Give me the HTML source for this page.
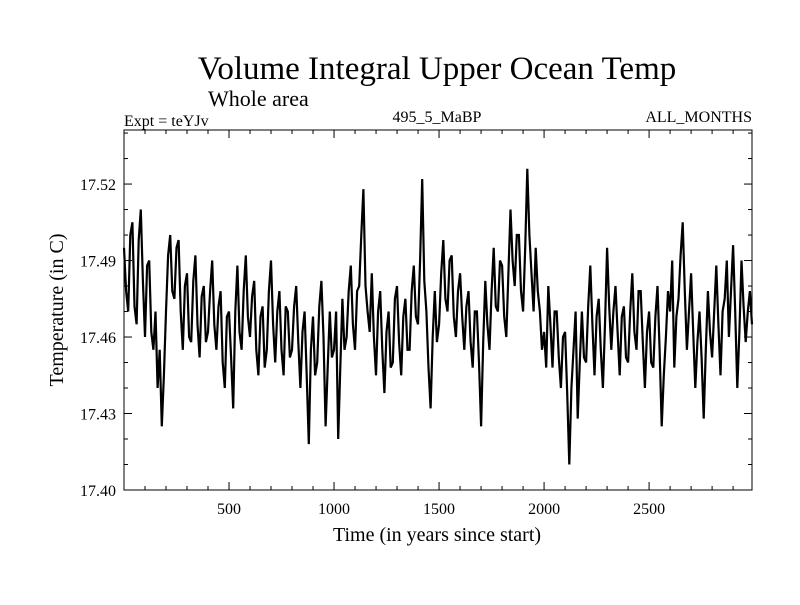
<!DOCTYPE html>
<html><head><meta charset="utf-8"><style>
body{margin:0;background:#fff}
svg text{font-family:"Liberation Serif",serif;fill:#000}
</style></head><body>
<svg width="800" height="600" viewBox="0 0 800 600">
<text x="437" y="79" font-size="33" text-anchor="middle">Volume Integral Upper Ocean Temp</text>
<text x="208" y="106" font-size="22">Whole area</text>
<text x="124" y="126" font-size="16">Expt = teYJv</text>
<text x="437" y="122" font-size="16" text-anchor="middle">495_5_MaBP</text>
<text x="752" y="122" font-size="16" text-anchor="end">ALL_MONTHS</text>
<g id="axes"></g>
<path id="series" fill="none" stroke="#000" stroke-width="2.2" stroke-linejoin="miter"/>
<rect x="124" y="130" width="628" height="360" fill="none" stroke="#000" stroke-width="1"/>
<text x="437" y="541" font-size="20" text-anchor="middle">Time (in years since start)</text>
<text transform="translate(63,310) rotate(-90)" font-size="20" text-anchor="middle">Temperature (in C)</text>
</svg>
<script>
const yearStep = 10;
const temps = [
17.495,17.478,17.470,17.500,17.505,17.472,17.465,17.498,17.510,17.482,17.460,17.488,17.490,17.462,17.455,17.470,17.440,17.455,17.425,17.445,
17.470,17.492,17.500,17.478,17.475,17.495,17.498,17.470,17.455,17.480,17.485,17.460,17.458,17.482,17.492,17.465,17.452,17.476,17.480,17.458,
17.462,17.478,17.490,17.465,17.455,17.472,17.478,17.450,17.440,17.468,17.470,17.452,17.432,17.470,17.488,17.462,17.455,17.478,17.492,17.468,
17.460,17.476,17.482,17.455,17.445,17.468,17.472,17.448,17.455,17.478,17.490,17.465,17.450,17.470,17.478,17.455,17.445,17.472,17.470,17.452,
17.455,17.472,17.480,17.458,17.440,17.462,17.470,17.445,17.418,17.455,17.468,17.445,17.450,17.472,17.482,17.460,17.425,17.448,17.470,17.452,
17.455,17.470,17.420,17.448,17.475,17.455,17.460,17.478,17.488,17.465,17.455,17.478,17.480,17.500,17.518,17.480,17.470,17.462,17.485,17.460,
17.445,17.470,17.478,17.455,17.438,17.462,17.470,17.448,17.450,17.475,17.480,17.458,17.445,17.468,17.475,17.455,17.455,17.478,17.488,17.468,
17.465,17.490,17.522,17.482,17.470,17.448,17.432,17.460,17.478,17.458,17.465,17.485,17.498,17.475,17.470,17.490,17.492,17.468,17.460,17.478,
17.485,17.468,17.455,17.472,17.478,17.458,17.448,17.470,17.470,17.450,17.425,17.458,17.482,17.465,17.455,17.478,17.495,17.472,17.470,17.490,
17.488,17.468,17.460,17.485,17.510,17.490,17.480,17.500,17.500,17.478,17.470,17.495,17.526,17.500,17.485,17.470,17.495,17.478,17.470,17.455,
17.462,17.448,17.480,17.465,17.448,17.470,17.470,17.452,17.440,17.460,17.462,17.438,17.410,17.440,17.455,17.470,17.428,17.450,17.470,17.452,
17.450,17.472,17.488,17.465,17.445,17.468,17.475,17.455,17.440,17.465,17.495,17.472,17.455,17.470,17.480,17.462,17.445,17.468,17.472,17.452,
17.450,17.470,17.485,17.462,17.455,17.478,17.478,17.458,17.440,17.462,17.470,17.450,17.448,17.468,17.480,17.455,17.425,17.445,17.460,17.478,
17.470,17.490,17.448,17.468,17.475,17.492,17.505,17.478,17.455,17.470,17.485,17.462,17.440,17.458,17.470,17.452,17.428,17.455,17.478,17.462,
17.452,17.470,17.488,17.465,17.445,17.470,17.475,17.490,17.460,17.478,17.496,17.470,17.440,17.462,17.490,17.472,17.458,17.470,17.478,17.465];
const xTicks = [500,1000,1500,2000,2500];
const yTicks = [17.40,17.43,17.46,17.49,17.52];
const yTickLabels = ["17.40","17.43","17.46","17.49","17.52"];
const X0=124,X1=752,Y0=490,Y1=130,xMin=0,xMax=2990,yMin=17.40,yMax=17.5412;
const sx=v=>X0+(v-xMin)/(xMax-xMin)*(X1-X0);
const sy=v=>Y0-(v-yMin)/(yMax-yMin)*(Y0-Y1);
const NS="http://www.w3.org/2000/svg";
const g=document.getElementById('axes');
function line(x1,y1,x2,y2,name){const l=document.createElementNS(NS,'line');
l.setAttribute('x1',x1);l.setAttribute('y1',y1);l.setAttribute('x2',x2);l.setAttribute('y2',y2);
l.setAttribute('stroke','#000');l.setAttribute('stroke-width','1');


g.appendChild(l);}
function text(x,y,s,anchor,name){const t=document.createElementNS(NS,'text');
t.setAttribute('x',x);t.setAttribute('y',y);t.setAttribute('font-size','16');t.setAttribute('text-anchor',anchor);t.textContent=s;


g.appendChild(t);}
for(let v=100;v<xMax;v+=100){const x=sx(v);const maj=v%500===0;const L=maj?8:4;
line(x,Y0,x,Y0-L,'x-tick');line(x,Y1,x,Y1+L,'x-tick-top');}
xTicks.forEach(v=>text(sx(v),514,String(v),'middle','x-tick-label'));
for(let k=0;k<=14;k++){const v=yMin+k*0.01;const y=sy(v);const maj=k%3===0;const L=maj?8:4;
line(X0,y,X0+L,y,'y-tick');line(X1,y,X1-L,y,'y-tick-right');}
yTicks.forEach((v,i)=>text(X0-8,sy(v)+6,yTickLabels[i],'end','y-tick-label'));
let d='';temps.forEach((v,i)=>{d+=(i?'L':'M')+sx(i*yearStep).toFixed(1)+','+sy(v).toFixed(1);});
document.getElementById('series').setAttribute('d',d);
</script>
</body></html>
